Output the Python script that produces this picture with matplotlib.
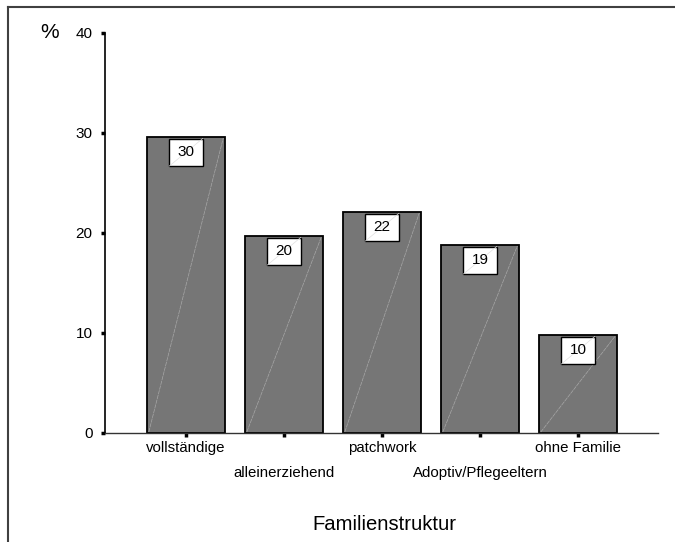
import matplotlib
matplotlib.use("Agg")
import matplotlib.pyplot as plt
from matplotlib.patches import Rectangle
from matplotlib.lines import Line2D

plt.rcParams['font.family'] = ['Liberation Sans', 'DejaVu Sans']

# Familienstruktur, Anteile in %
categories = ["vollständige", "alleinerziehend", "patchwork",
              "Adoptiv/Pflegeeltern", "ohne Familie"]
values = [29.6, 19.7, 22.1, 18.8, 9.8]
yticks = [0, 10, 20, 30, 40]

W, H = 675, 542
fig = plt.figure(figsize=(W / 100, H / 100), dpi=100)
ax = fig.add_axes([105 / W, (H - 433) / H, (658 - 105) / W, 400 / H])

x = list(range(len(categories)))
bw = 0.8
ax.bar(x, values, width=bw, color="#767676", edgecolor="black",
       linewidth=1.3, zorder=2)

# helle Diagonale in jedem Balken
for xi, v in zip(x, values):
    ax.plot([xi - bw / 2 + 0.02, xi + bw / 2 - 0.02], [0.1, v - 0.1],
            color="#a8a8a8", lw=0.5, ls=(0, (6, 1)), zorder=3)

# Wertekästchen oben im Balken
box_w, box_h = 0.34, 2.75
for xi, v in zip(x, values):
    top = v - 0.15
    ax.add_patch(Rectangle((xi - box_w / 2, top - box_h), box_w, box_h,
                           facecolor="white", edgecolor="black", lw=1.0,
                           zorder=4))
    ax.plot([xi - box_w / 2, xi + box_w / 2], [top - box_h, top],
            color="#e0e0e0", lw=0.5, zorder=5)
    ax.text(xi, top - box_h / 2, f"{v:.0f}", ha="center", va="center",
            fontsize=11, zorder=6)

ax.set_xlim(-0.827, 4.816)
ax.set_ylim(0, 40)

for s in ["top", "right"]:
    ax.spines[s].set_visible(False)
ax.spines["left"].set_linewidth(1.2)
ax.spines["bottom"].set_linewidth(1.0)
ax.spines["bottom"].set_color("#333333")

ax.set_yticks(yticks)
ax.set_yticklabels([str(t) for t in yticks], fontsize=11)
ax.set_xticks(x)
ax.set_xticklabels([])
ax.tick_params(axis="y", length=3, width=2.5, pad=6)
ax.tick_params(axis="x", length=3, width=2.5)

# Kategorienbeschriftung versetzt in zwei Reihen
for xi, c in zip(x, categories):
    yy = -1.5 if xi % 2 == 0 else -4.0
    ax.text(xi, yy, c, ha="center", va="center", fontsize=10.8,
            clip_on=False)

fig.text(384 / W, 1 - 524 / H, "Familienstruktur", ha="center",
         va="center", fontsize=14.6)
fig.text(50 / W, 1 - 32 / H, "%", ha="center", va="center", fontsize=15)

# Rahmen oben und links
fig.add_artist(Line2D([8 / W, 1], [1 - 7 / H, 1 - 7 / H], color="#404040",
                      lw=1.5, transform=fig.transFigure))
fig.add_artist(Line2D([8 / W, 8 / W], [0, 1 - 7 / H], color="#404040",
                      lw=1.5, transform=fig.transFigure))

fig.savefig("out.png", dpi=100)
